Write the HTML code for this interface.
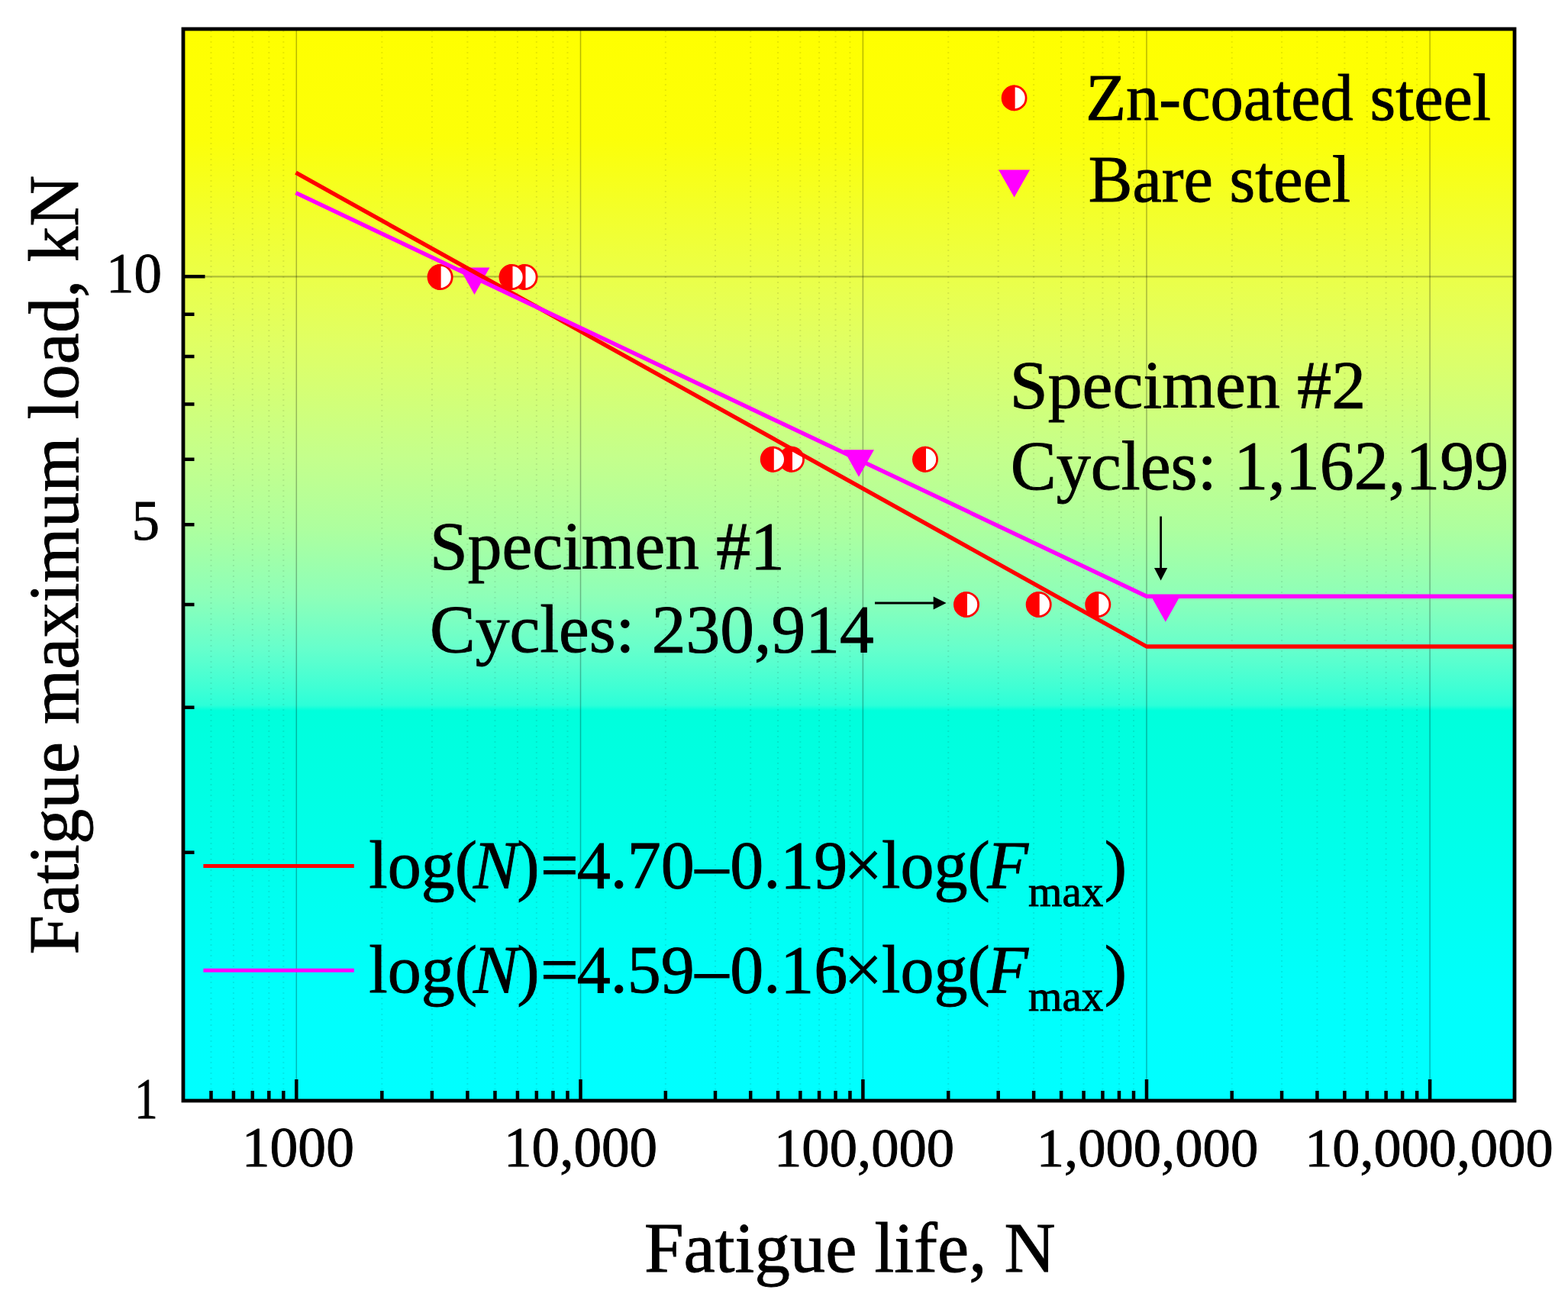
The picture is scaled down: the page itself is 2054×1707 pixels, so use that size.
<!DOCTYPE html><html><head><meta charset="utf-8"><title>Fatigue S-N chart</title><style>html,body{margin:0;padding:0;background:#fff;overflow:hidden}svg{display:block}</style></head><body><svg width="2054" height="1707" viewBox="0 0 2054 1707">
<defs><linearGradient id="bg" gradientUnits="userSpaceOnUse" x1="0" y1="40" x2="0" y2="1440">
<stop offset="0.0000" stop-color="#FFFF00"/>
<stop offset="0.1000" stop-color="#FCFF08"/>
<stop offset="0.2300" stop-color="#EBFF48"/>
<stop offset="0.2929" stop-color="#E0FF64"/>
<stop offset="0.4000" stop-color="#C4FF8C"/>
<stop offset="0.4643" stop-color="#AEFF9E"/>
<stop offset="0.5286" stop-color="#8EFFB8"/>
<stop offset="0.5786" stop-color="#66FFCC"/>
<stop offset="0.6143" stop-color="#40FFD4"/>
<stop offset="0.6314" stop-color="#2CFFD8"/>
<stop offset="0.6364" stop-color="#00FFDC"/>
<stop offset="0.7143" stop-color="#00FFE4"/>
<stop offset="0.9000" stop-color="#00FFFC"/>
<stop offset="1.0000" stop-color="#00FFFF"/>
</linearGradient></defs>
<rect x="240.0" y="38.0" width="1744.0" height="1404.0" fill="url(#bg)"/>
<path d="M276.50 40V1440 M305.91 40V1440 M330.77 40V1440 M352.31 40V1440 M371.31 40V1440 M500.34 40V1440 M565.88 40V1440 M612.39 40V1440 M648.46 40V1440 M677.93 40V1440 M702.85 40V1440 M724.43 40V1440 M743.47 40V1440 M871.85 40V1440 M936.99 40V1440 M983.20 40V1440 M1019.05 40V1440 M1048.34 40V1440 M1073.10 40V1440 M1094.55 40V1440 M1113.47 40V1440 M1242.26 40V1440 M1307.70 40V1440 M1354.13 40V1440 M1390.14 40V1440 M1419.56 40V1440 M1444.44 40V1440 M1465.99 40V1440 M1485.00 40V1440 M1613.71 40V1440 M1679.06 40V1440 M1725.42 40V1440 M1761.39 40V1440 M1790.77 40V1440 M1815.62 40V1440 M1837.14 40V1440 M1856.12 40V1440" stroke="rgba(0,0,0,0.09)" stroke-width="2" stroke-dasharray="2 5" fill="none"/>
<path d="M388.30 40V1440 M760.50 40V1440 M1130.40 40V1440 M1502.00 40V1440 M1873.10 40V1440" stroke="rgba(0,0,0,0.28)" stroke-width="1.5" fill="none"/>
<path d="M242 362.30H1982" stroke="rgba(0,0,0,0.26)" stroke-width="2.2" fill="none"/>
<circle cx="1438.3" cy="792" r="15.6" fill="#fff" stroke="#f00" stroke-width="2.8"/><path d="M1439.3 775.0A17.0 17.0 0 0 0 1439.3 809.0Z" fill="#f00"/>
<circle cx="1360.7" cy="792" r="15.6" fill="#fff" stroke="#f00" stroke-width="2.8"/><path d="M1361.7 775.0A17.0 17.0 0 0 0 1361.7 809.0Z" fill="#f00"/>
<circle cx="1266" cy="792" r="15.6" fill="#fff" stroke="#f00" stroke-width="2.8"/><path d="M1267 775.0A17.0 17.0 0 0 0 1267 809.0Z" fill="#f00"/>
<circle cx="1212" cy="601.8" r="15.6" fill="#fff" stroke="#f00" stroke-width="2.8"/><path d="M1213 584.8A17.0 17.0 0 0 0 1213 618.8Z" fill="#f00"/>
<circle cx="1037" cy="601.8" r="15.6" fill="#fff" stroke="#f00" stroke-width="2.8"/><path d="M1038 584.8A17.0 17.0 0 0 0 1038 618.8Z" fill="#f00"/>
<circle cx="1012.8" cy="601.8" r="15.6" fill="#fff" stroke="#f00" stroke-width="2.8"/><path d="M1013.8 584.8A17.0 17.0 0 0 0 1013.8 618.8Z" fill="#f00"/>
<circle cx="687.5" cy="363" r="15.6" fill="#fff" stroke="#f00" stroke-width="2.8"/><path d="M688.5 346.0A17.0 17.0 0 0 0 688.5 380.0Z" fill="#f00"/>
<circle cx="670.5" cy="363" r="15.6" fill="#fff" stroke="#f00" stroke-width="2.8"/><path d="M671.5 346.0A17.0 17.0 0 0 0 671.5 380.0Z" fill="#f00"/>
<circle cx="576.6" cy="363" r="15.6" fill="#fff" stroke="#f00" stroke-width="2.8"/><path d="M577.6 346.0A17.0 17.0 0 0 0 577.6 380.0Z" fill="#f00"/>
<path d="M601.50 350.57H641.50L621.50 386.07Z" fill="#f0f"/>
<path d="M1105.00 589.27H1145.00L1125.00 624.77Z" fill="#f0f"/>
<path d="M1506.80 779.27H1546.80L1526.80 814.77Z" fill="#f0f"/>
<path d="M387.5 226.2L1502 847H1982" stroke="#f00" stroke-width="5.4" fill="none" stroke-linejoin="round"/>
<path d="M387.5 252.6L1502 781.2H1982" stroke="#f0f" stroke-width="5.4" fill="none" stroke-linejoin="round"/>
<path d="M388.30 1442V1414 M760.50 1442V1414 M1130.40 1442V1414 M1502.00 1442V1414 M1873.10 1442V1414 M276.50 1442V1429 M305.91 1442V1429 M330.77 1442V1429 M352.31 1442V1429 M371.31 1442V1429 M500.34 1442V1429 M565.88 1442V1429 M612.39 1442V1429 M648.46 1442V1429 M677.93 1442V1429 M702.85 1442V1429 M724.43 1442V1429 M743.47 1442V1429 M871.85 1442V1429 M936.99 1442V1429 M983.20 1442V1429 M1019.05 1442V1429 M1048.34 1442V1429 M1073.10 1442V1429 M1094.55 1442V1429 M1113.47 1442V1429 M1242.26 1442V1429 M1307.70 1442V1429 M1354.13 1442V1429 M1390.14 1442V1429 M1419.56 1442V1429 M1444.44 1442V1429 M1465.99 1442V1429 M1485.00 1442V1429 M1613.71 1442V1429 M1679.06 1442V1429 M1725.42 1442V1429 M1761.39 1442V1429 M1790.77 1442V1429 M1815.62 1442V1429 M1837.14 1442V1429 M1856.12 1442V1429 M240 362.30H268.5 M240 1116.84H254.5 M240 926.75H254.5 M240 791.88H254.5 M240 687.26H254.5 M240 601.79H254.5 M240 529.52H254.5 M240 466.91H254.5 M240 411.70H254.5" stroke="#000" stroke-width="4.5" fill="none"/>
<rect x="240.0" y="38.0" width="1744.0" height="1404.0" fill="none" stroke="#000" stroke-width="4.8"/>
<circle cx="1328.6" cy="128.4" r="15.5" fill="#fff" stroke="#f00" stroke-width="2.8"/><path d="M1329.6 111.5A16.9 16.9 0 0 0 1329.6 145.3Z" fill="#f00"/>
<path d="M1308.10 222.50H1349.10L1328.60 258.50Z" fill="#f0f"/>
<path d="M1520.6 676.5V748" stroke="#000" stroke-width="2.8"/>
<path d="M1512 744L1529.2 744L1520.6 760.5Z" fill="#000"/>
<path d="M1146 790H1226" stroke="#000" stroke-width="2.8"/>
<path d="M1222.7 781.5L1239.6 790L1222.7 798.5Z" fill="#000"/>
<text x="844.02" y="1666.10" font-size="92.80" font-family="'Liberation Serif', 'Times New Roman', serif" stroke="#000" stroke-width="0.9">Fatigue life, N</text>
<text transform="translate(102.00 1250.48) rotate(-90)" x="0" y="0" font-size="92.8" font-family="'Liberation Serif', 'Times New Roman', serif" stroke="#000" stroke-width="0.9">Fatigue maximum load, kN</text>
<text x="316.78" y="1528.30" font-size="73.59" font-family="'Liberation Serif', 'Times New Roman', serif" stroke="#000" stroke-width="0.9">1000</text>
<text x="660.02" y="1528.30" font-size="73.14" font-family="'Liberation Serif', 'Times New Roman', serif" stroke="#000" stroke-width="0.9">10,000</text>
<text x="1013.96" y="1528.30" font-size="72.69" font-family="'Liberation Serif', 'Times New Roman', serif" stroke="#000" stroke-width="0.9">100,000</text>
<text x="1357.76" y="1528.30" font-size="72.62" font-family="'Liberation Serif', 'Times New Roman', serif" stroke="#000" stroke-width="0.9">1,000,000</text>
<text x="1709.19" y="1528.30" font-size="72.31" font-family="'Liberation Serif', 'Times New Roman', serif" stroke="#000" stroke-width="0.9">10,000,000</text>
<text x="139.02" y="382.8" font-size="73" font-family="'Liberation Serif', 'Times New Roman', serif" stroke="#000" stroke-width="0.9">10</text>
<text x="172.42" y="707" font-size="73" font-family="'Liberation Serif', 'Times New Roman', serif" stroke="#000" stroke-width="0.9">5</text>
<text transform="translate(176.3 1464.6) scale(0.8 1)" x="0" y="0" font-size="76" font-family="'Liberation Serif', 'Times New Roman', serif" stroke="#000" stroke-width="0.9">1</text>
<text x="1422.27" y="156.70" font-size="86.50" font-family="'Liberation Serif', 'Times New Roman', serif" stroke="#000" stroke-width="0.9">Zn-coated steel</text>
<text x="1425.70" y="264.00" font-size="86.50" font-family="'Liberation Serif', 'Times New Roman', serif" stroke="#000" stroke-width="0.9">Bare steel</text>
<text x="1322.71" y="533.80" font-size="89.80" font-family="'Liberation Serif', 'Times New Roman', serif" stroke="#000" stroke-width="0.9">Specimen #2</text>
<text x="1323.70" y="641.40" font-size="90.00" font-family="'Liberation Serif', 'Times New Roman', serif" stroke="#000" stroke-width="0.9">Cycles: 1,162,199</text>
<text x="563.03" y="745.30" font-size="89.50" font-family="'Liberation Serif', 'Times New Roman', serif" stroke="#000" stroke-width="0.9">Specimen #1</text>
<text x="563.02" y="854.30" font-size="89.50" font-family="'Liberation Serif', 'Times New Roman', serif" stroke="#000" stroke-width="0.9">Cycles: 230,914</text>
<path d="M266.4 1134.5H463.8" stroke="#f00" stroke-width="5"/>
<path d="M266.4 1271.3H463.8" stroke="#f0f" stroke-width="5"/>
<text y="1162.8" font-size="88" font-family="'Liberation Serif', 'Times New Roman', serif" stroke="#000" stroke-width="0.9"><tspan x="483.3" y="1162.8" font-size="88">log(</tspan><tspan x="620.1" y="1162.8" font-size="88" font-style="italic">N</tspan><tspan x="677.3" y="1162.8" font-size="88">)</tspan><tspan x="708.1" y="1162.8" font-size="88">=</tspan><tspan x="755.8" y="1162.8" font-size="88">4.70</tspan><tspan x="910.5" y="1162.8" font-size="88">&#8211;</tspan><tspan x="956.3" y="1162.8" font-size="88">0.19</tspan><tspan x="1106.0" y="1162.8" font-size="88">&#215;</tspan><tspan x="1155.0" y="1162.8" font-size="88">log(</tspan><tspan x="1293.3" y="1162.8" font-size="88" font-style="italic">F</tspan><tspan x="1347.1" y="1187.1" font-size="57">max</tspan><tspan x="1446.8" y="1162.8" font-size="88">)</tspan></text>
<text y="1300" font-size="88" font-family="'Liberation Serif', 'Times New Roman', serif" stroke="#000" stroke-width="0.9"><tspan x="483.3" y="1300.0" font-size="88">log(</tspan><tspan x="620.1" y="1300.0" font-size="88" font-style="italic">N</tspan><tspan x="677.3" y="1300.0" font-size="88">)</tspan><tspan x="708.1" y="1300.0" font-size="88">=</tspan><tspan x="755.8" y="1300.0" font-size="88">4.59</tspan><tspan x="910.5" y="1300.0" font-size="88">&#8211;</tspan><tspan x="956.3" y="1300.0" font-size="88">0.16</tspan><tspan x="1106.0" y="1300.0" font-size="88">&#215;</tspan><tspan x="1155.0" y="1300.0" font-size="88">log(</tspan><tspan x="1293.3" y="1300.0" font-size="88" font-style="italic">F</tspan><tspan x="1347.1" y="1324.3" font-size="57">max</tspan><tspan x="1446.8" y="1300.0" font-size="88">)</tspan></text>
</svg></body></html>
